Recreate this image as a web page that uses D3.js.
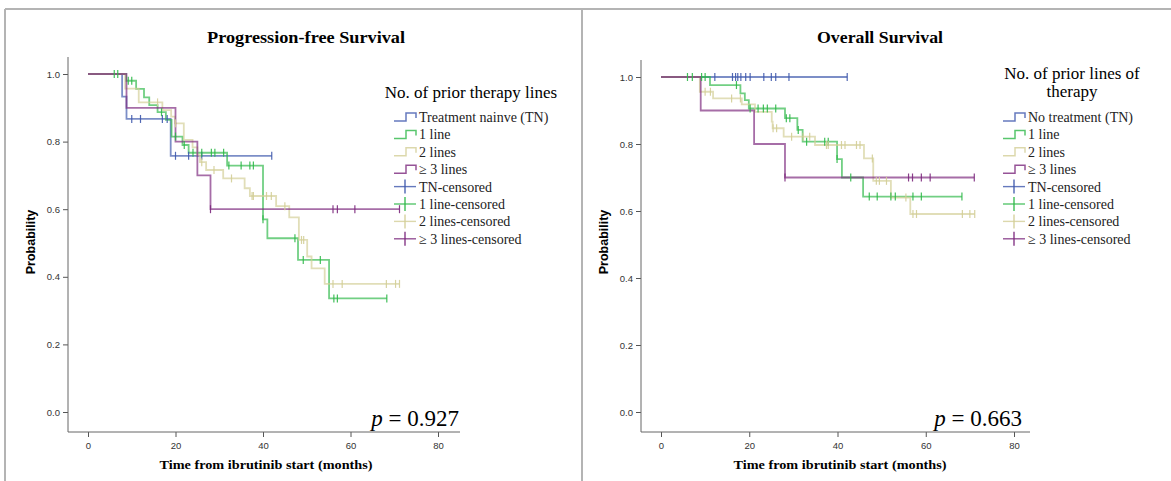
<!DOCTYPE html>
<head>
    <script src="https://cdn.jsdelivr.net/npm/d3@7"></script>
    <style>
        body { margin: 0; background: #fff; }
        svg text { font-family: "Liberation Serif", "Times New Roman", serif; }
    </style>
</head>
<body>
<svg width="1171" height="481"></svg>
<script type="text/javascript">
    var svg = d3.select("svg");

    // legend / category labels
    var seriesNames = ["TN", "1 line", "2 lines", "3+ lines"];
    var seriesColors = ["#3E58AC", "#2EB848", "#D3CE97", "#7C287D"];
    var xTicks = [0, 20, 40, 60, 80];
    var yTicks = [0, 0.2, 0.4, 0.6, 0.8, 1.0];

    // Progression-free survival: [month, survival after drop], censor months, last month
    var pfsTnSteps = [[7.8, 0.933], [8.8, 0.867], [18.9, 0.758]];
    var pfsTnCensor = [10, 12, 17, 18.1, 20, 23, 26, 42];
    var pfsTnEnd = 42;
    var pfs1Steps = [[8.7, 0.98], [11, 0.956], [12.8, 0.931], [14, 0.908], [15.9, 0.887], [17.8, 0.864],
        [19.1, 0.815], [21.6, 0.79], [23, 0.767], [31.8, 0.729], [40, 0.57], [41, 0.514], [48, 0.45], [55.1, 0.336]];
    var pfs1Censor = [6, 6.8, 9.2, 10, 16.8, 20, 22, 24, 26, 28.2, 29, 31, 32.2, 35, 37, 37.8, 40, 47.3, 49.2, 53.1, 56.2, 57, 68.3];
    var pfs1End = 68.3;
    var pfs2Steps = [[8.5, 0.957], [11.6, 0.916], [17, 0.893], [19, 0.874], [19.9, 0.854], [21.9, 0.805],
        [23.9, 0.783], [25, 0.76], [25.6, 0.739], [27, 0.716], [30.9, 0.691], [35.8, 0.662], [37, 0.639],
        [43, 0.609], [46, 0.576], [48.2, 0.509], [50.1, 0.46], [51.1, 0.425], [54.1, 0.379]];
    var pfs2Censor = [15.9, 20, 26, 28.8, 32.8, 37.5, 37.8, 40.8, 41.9, 45, 48.8, 49.3, 56, 58.1, 68.2, 70.3, 71.2];
    var pfs2End = 71.2;
    var pfs3Steps = [[8.8, 0.9], [20, 0.8], [25, 0.7], [28, 0.6]];
    var pfs3Censor = [28, 56, 57, 61, 71.2];
    var pfs3End = 71.2;

    // Overall survival
    var osTnSteps = [];
    var osTnCensor = [12.2, 16.2, 16.9, 17.4, 18.1, 19.2, 20.2, 23.3, 25, 26, 29, 42.2];
    var osTnEnd = 42.2;
    var os1Steps = [[11.1, 0.976], [18, 0.951], [19, 0.931], [19.9, 0.906], [28.1, 0.877], [30.9, 0.842],
        [32.1, 0.807], [39.9, 0.755], [41, 0.70], [45.8, 0.643]];
    var os1Censor = [6, 7.1, 9.2, 10, 17.1, 20.2, 22, 23.2, 24.1, 26, 28.4, 29.2, 31.1, 33, 37.1, 37.9, 39.9,
        43, 47.2, 49, 52.1, 53.1, 57.1, 59, 68.2];
    var os1End = 68.2;
    var os2Steps = [[8.8, 0.956], [11.8, 0.936], [18.3, 0.918], [21.3, 0.896], [25.1, 0.867], [25.3, 0.847],
        [27.8, 0.822], [34.9, 0.797], [46, 0.757], [48.1, 0.69], [52.1, 0.64], [56.5, 0.591]];
    var os2Censor = [10, 11.2, 16, 18, 25.4, 26.2, 29.6, 32.2, 33.7, 37.5, 37.9, 40.9, 41.7, 44.3, 45.1,
        47.9, 48.8, 49.5, 51.1, 55.5, 57.1, 57.9, 68.3, 70, 71.1];
    var os2End = 71.1;
    var os3Steps = [[9, 0.9], [21.1, 0.8], [28.1, 0.7]];
    var os3Censor = [28.1, 56.1, 57, 59, 61, 71];
    var os3End = 71;

    var pfsLegend = ["Treatment nainve (TN)", "1 line", "2 lines", "\u2265 3 lines",
        "TN-censored", "1 line-censored", "2 lines-censored", "\u2265 3 lines-censored"];
    var osLegend = ["No treatment (TN)", "1 line", "2 lines", "\u2265 3 lines",
        "TN-censored", "1 line-censored", "2 lines-censored", "\u2265 3 lines-censored"];

    // frame
    svg.append("line").attr("x1", 5).attr("x2", 1171).attr("y1", 9).attr("y2", 9)
        .attr("stroke", "#b4b4b4").attr("stroke-width", 2);
    svg.append("line").attr("x1", 5).attr("x2", 5).attr("y1", 9).attr("y2", 481)
        .attr("stroke", "#b4b4b4").attr("stroke-width", 2);
    svg.append("line").attr("x1", 582).attr("x2", 582).attr("y1", 9).attr("y2", 481)
        .attr("stroke", "#b4b4b4").attr("stroke-width", 2);

    function survAt(steps, t) {
        var s = 1;
        steps.forEach(function (d) {
            if (d[0] <= t) s = d[1];
        });
        return s;
    }

    function drawPanel(p) {
        var g = svg.append("g");
        var x = d3.scaleLinear().domain([0, 80]).range([p.x0, p.x80]);
        var y = d3.scaleLinear().domain([0, 1]).range([412, p.y1]);

        // axes
        var ax = g.append("g").attr("transform", "translate(0," + p.axisY + ")")
            .call(d3.axisBottom(x).tickValues(xTicks).tickSize(5).tickSizeOuter(0));
        var ay = g.append("g").attr("transform", "translate(" + p.axisX + ",0)")
            .call(d3.axisLeft(y).tickValues(yTicks).tickSize(5).tickSizeOuter(0).tickFormat(d3.format(".1f")));
        [ax, ay].forEach(function (a) {
            a.select(".domain").remove();
            a.selectAll("line").attr("stroke", "#555");
            a.selectAll("text").style("font-family", "'Liberation Sans', Arial, sans-serif")
                .style("font-size", "9.5px").attr("fill", "#333");
        });
        ax.selectAll("text").attr("dy", "0.95em");
        g.append("line").attr("x1", p.axisX).attr("x2", p.axisX).attr("y1", p.axisTop).attr("y2", p.axisY)
            .attr("stroke", "#666");
        g.append("line").attr("x1", p.axisX).attr("x2", p.axisRight).attr("y1", p.axisY).attr("y2", p.axisY)
            .attr("stroke", "#666");

        // curves
        var line = d3.line().x(function (d) { return x(d[0]); }).y(function (d) { return y(d[1]); });
        p.series.forEach(function (s, i) {
            var pts = [[0, 1]], cur = 1;
            s.steps.forEach(function (d) {
                pts.push([d[0], cur]);
                pts.push([d[0], d[1]]);
                cur = d[1];
            });
            pts.push([s.end, cur]);
            g.append("path").attr("d", line(pts)).attr("fill", "none")
                .attr("stroke", seriesColors[i]).attr("stroke-width", 1.8).attr("stroke-opacity", 0.68);
        });
        p.series.forEach(function (s, i) {
            g.selectAll(null).data(s.censor).enter().append("line")
                .attr("x1", function (d) { return x(d); })
                .attr("x2", function (d) { return x(d); })
                .attr("y1", function (d) { return y(survAt(s.steps, d)) - 4; })
                .attr("y2", function (d) { return y(survAt(s.steps, d)) + 4; })
                .attr("stroke", seriesColors[i]).attr("stroke-width", 1.2).attr("stroke-opacity", 0.9);
        });

        // titles
        g.append("text").attr("x", p.titleX).attr("y", 43).attr("text-anchor", "middle")
            .style("font-weight", "bold").style("font-size", "16px")
            .attr("textLength", p.titleLen).attr("lengthAdjust", "spacingAndGlyphs")
            .text(p.title);
        g.append("text").attr("x", p.xTitleX).attr("y", 469).attr("text-anchor", "middle")
            .style("font-weight", "bold").style("font-size", "13px")
            .attr("textLength", 213).attr("lengthAdjust", "spacingAndGlyphs")
            .text("Time from ibrutinib start (months)");
        g.append("text").attr("transform", "translate(" + p.yTitleX + ",242) rotate(-90)")
            .attr("text-anchor", "middle")
            .style("font-family", "'Liberation Sans', Arial, sans-serif")
            .style("font-weight", "bold").style("font-size", "12.5px")
            .text("Probability");
        var pt = g.append("text").attr("x", p.pX).attr("y", 426).attr("text-anchor", "end")
            .style("font-size", "23px");
        pt.append("tspan").style("font-style", "italic").text("p");
        pt.append("tspan").text(" = " + p.pValue);

        // legend
        var lg = g.append("g");
        p.legendTitle.forEach(function (t, k) {
            lg.append("text").attr("x", p.legTitleX).attr("y", p.legTitleY + k * 18)
                .attr("text-anchor", "middle").style("font-size", "17px").text(t);
        });
        var rows = d3.range(8);
        rows.forEach(function (r) {
            var yy = 117 + r * 17.4;
            var c = seriesColors[r % 4];
            var lx = p.legX;
            if (r < 4) {
                lg.append("path")
                    .attr("d", "M" + lx + "," + (yy + 4) + "H" + (lx + 12) + "V" + (yy - 4) + "H" + (lx + 22) + "V" + (yy + 1))
                    .attr("fill", "none").attr("stroke", c).attr("stroke-width", 1.5).attr("stroke-opacity", 0.8);
            } else {
                lg.append("line").attr("x1", lx).attr("x2", lx + 22).attr("y1", yy).attr("y2", yy)
                    .attr("stroke", c).attr("stroke-width", 1.4).attr("stroke-opacity", 0.8);
                lg.append("line").attr("x1", lx + 11).attr("x2", lx + 11).attr("y1", yy - 7).attr("y2", yy + 7)
                    .attr("stroke", c).attr("stroke-width", 1.3);
            }
            lg.append("text").attr("x", lx + 25).attr("y", yy + 5).style("font-size", "14px")
                .attr("fill", "#222").text(p.legend[r]);
        });
    }

    drawPanel({
        x0: 88, x80: 438, y1: 74, axisX: 68, axisY: 432, axisTop: 57, axisRight: 460,
        title: "Progression-free Survival", titleX: 306, titleLen: 198,
        xTitleX: 266, yTitleX: 35, pX: 459, pValue: "0.927",
        legendTitle: ["No. of prior therapy lines"], legTitleX: 471, legTitleY: 98,
        legX: 394, legend: pfsLegend,
        series: [
            {steps: pfsTnSteps, censor: pfsTnCensor, end: pfsTnEnd},
            {steps: pfs1Steps, censor: pfs1Censor, end: pfs1End},
            {steps: pfs2Steps, censor: pfs2Censor, end: pfs2End},
            {steps: pfs3Steps, censor: pfs3Censor, end: pfs3End}
        ]
    });
    drawPanel({
        x0: 661, x80: 1014, y1: 77, axisX: 641, axisY: 432, axisTop: 60, axisRight: 1030,
        title: "Overall Survival", titleX: 880, titleLen: 126,
        xTitleX: 840, yTitleX: 608, pX: 1022, pValue: "0.663",
        legendTitle: ["No. of prior lines of", "therapy"], legTitleX: 1072, legTitleY: 79,
        legX: 1003, legend: osLegend,
        series: [
            {steps: osTnSteps, censor: osTnCensor, end: osTnEnd},
            {steps: os1Steps, censor: os1Censor, end: os1End},
            {steps: os2Steps, censor: os2Censor, end: os2End},
            {steps: os3Steps, censor: os3Censor, end: os3End}
        ]
    });
</script>
</body>
</html>
